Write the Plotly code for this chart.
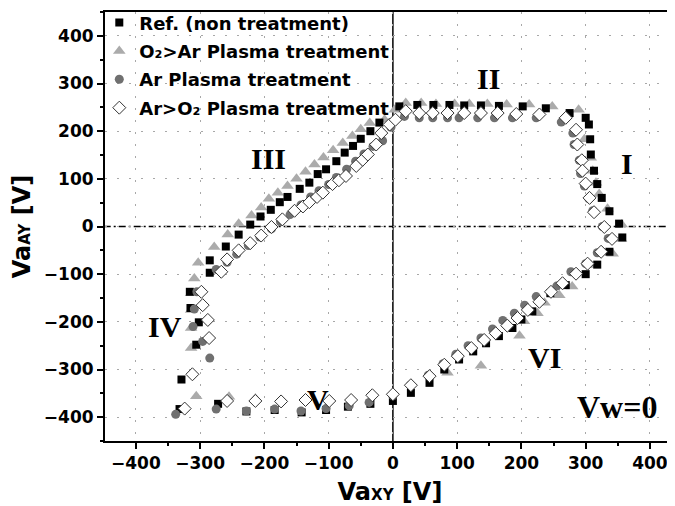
import plotly.graph_objects as go

# ---------------- data ----------------
ref_x = [10, 38, 63, 88, 111, 137, 165, 202, 238, 275, 300,
         305, 307, 308, 313, 318, 325, 337, 352, 357, 337,
         318, 300, 269, 245, 217, 200, 186, 165, 145, 125, 103, 80, 57, 28, 0,
         -35, -70, -104, -142, -184, -228, -272, -332,
         -329, -306, -302, -315, -316, -285, -285, -260, -240,
         -222, -206, -190, -176, -164, -145, -130, -117, -104, -88, -75, -62, -50, -35, -21]
ref_y = [252, 255, 255, 255, 254, 254, 253, 252, 248, 238, 228,
         214, 183, 151, 117, 89, 60, 32, 6, -23, -53,
         -80, -100, -123, -140, -178, -195, -213, -230, -245, -262, -279, -300, -328, -349, -366,
         -372, -378, -385, -390, -385, -388, -372, -383,
         -321, -248, -201, -171, -137, -97, -71, -42, -17,
         4, 21, 35, 51, 62, 79, 92, 110, 120, 137, 155, 169, 184, 200, 218]

o2ar_x = [3, 20, 44, 67, 96, 119, 147, 177, 212, 248, 289,
          298, 308, 311, 316, 321, 334, 356, 355, 342,
          308, 279, 259, 236, 225, 204, 197, 137, 85,
          -306, -255, -214,
          -314, -314, -314, -314, -309, -303, -278, -257,
          -240, -220, -205, -193, -179, -164, -150, -136, -122, -108, -93, -78, -63, -50, -36, -13]
o2ar_y = [245, 259, 259, 257, 257, 257, 257, 256, 256, 252, 245,
          183, 144, 117, 92, 68, 37, 4, -26, -57,
          -81, -126, -144, -160, -182, -199, -229, -292, -307,
          -356, -357, -361,
          -255, -213, -175, -140, -109, -76, -43, -17,
          6, 23, 40, 58, 71, 85, 100, 115, 130, 145, 160, 175, 190, 204, 217, 224]

ar_x = [-3, 18, 41, 62, 85, 103, 132, 158, 186, 223, 262,
        280, 282, 290, 292, 298, 305, 311, 326, 335, 318,
        300, 277, 255, 223, 205, 189, 171, 155, 137, 117, 98, 78, 55, 27, 0,
        -37, -68, -104, -143, -184, -228, -275, -338,
        -285, -296, -311, -309, -305, -275, -258, -243,
        -225, -207, -189, -175, -160, -143, -128, -115, -100, -88, -72, -58, -45, -31, -16]
ar_y = [208, 231, 228, 228, 228, 228, 228, 228, 228, 228, 219,
        196, 172, 139, 111, 85, 58, 33, 0, -25, -55,
        -78, -95, -125, -147, -165, -182, -197, -215, -234, -250, -268, -288, -312, -333, -355,
        -369, -376, -382, -387, -383, -387, -383, -394,
        -276, -241, -210, -173, -137, -90, -75, -58,
        -40, -22, -5, 10, 25, 45, 62, 75, 88, 103, 120, 137, 152, 168, 180]

aro2_x = [20, 41, 62, 85, 111, 137, 163, 192, 228, 269,
          285, 287, 294, 295, 300, 306, 313, 329, 341, 324, 303,
          285, 264, 246, 228, 210, 194, 178, 160, 142, 122, 101, 80, 57, 28, 0,
          -32, -65, -99, -136, -174, -214, -258, -324,
          -312, -286, -288, -296, -298, -267,
          -258, -240, -222, -205, -189, -172, -153, -140, -130, -118, -109, -94, -84, -73,
          -57, -47, -39, -26, -18, -5, 4]
aro2_y = [242, 238, 238, 238, 238, 238, 238, 236, 235, 228,
          203, 172, 139, 117, 90, 60, 30, -1, -26, -53, -78,
          -99, -119, -137, -158, -175, -192, -208, -224, -238, -255, -272, -290, -314, -333, -352,
          -354, -364, -366, -364, -367, -366, -366, -382,
          -310, -234, -196, -165, -137, -95,
          -69, -50, -35, -19, -1, 15, 33, 42, 51, 62, 71, 89, 97, 106,
          127, 140, 151, 172, 196, 214, 224]

x_ticks = [-400, -300, -200, -100, 0, 100, 200, 300, 400]
y_ticks = [-400, -300, -200, -100, 0, 100, 200, 300, 400]

region_labels = ["I", "II", "III", "IV", "V", "VI", "Vw=0"]
region_x = [365, 148, -193, -354, -116, 236, 349]
region_y = [133, 310, 142, -210, -362, -275, -379]

# ---------------- figure ----------------
FONT = "DejaVu Sans"
fig = go.Figure()

fig.add_trace(go.Scatter(x=o2ar_x, y=o2ar_y, mode="markers", name="O₂>Ar Plasma treatment",
                         legendrank=2, legendgroup="b",
                         marker=dict(symbol="triangle-up", size=11, color="#ababab")))
fig.add_trace(go.Scatter(x=ref_x, y=ref_y, mode="markers", name="Ref. (non treatment)",
                         legendrank=1, legendgroup="a",
                         marker=dict(symbol="square", size=8, color="#000000")))
fig.add_trace(go.Scatter(x=ar_x, y=ar_y, mode="markers", name="Ar Plasma treatment",
                         legendrank=3, legendgroup="c",
                         marker=dict(symbol="circle", size=9, color="#707070")))
fig.add_trace(go.Scatter(x=aro2_x, y=aro2_y, mode="markers", name="Ar>O₂ Plasma treatment",
                         legendrank=4, legendgroup="d",
                         marker=dict(symbol="diamond", size=10, color="#ffffff",
                                     line=dict(color="#333333", width=1))))

# reference lines at zero
fig.add_shape(type="line", xref="x", yref="y", x0=0, x1=0, y0=-450, y1=450,
              line=dict(color="black", width=1.5), layer="below")
fig.add_shape(type="line", xref="x", yref="y", x0=-450, x1=440, y0=0, y1=0,
              line=dict(color="black", width=1.5, dash="7px,3px,2px,3px"), layer="below")

for t, xx, yy in zip(region_labels, region_x, region_y):
    fig.add_annotation(x=xx, y=yy, text="<b>%s</b>" % t, showarrow=False,
                       font=dict(family="Liberation Serif", size=30 if t != "Vw=0" else 32,
                                 color="black"))

axis_common = dict(
    showline=True, linecolor="black", linewidth=2,
    ticks="outside", ticklen=6, tickwidth=2, tickcolor="black",
    tickfont=dict(family=FONT, size=17, color="black", weight="bold"),
    showgrid=True, gridcolor="#a8a8a8", gridwidth=1, griddash="2px,10px",
    zeroline=False,
    minor=dict(ticks="outside", ticklen=3, tickwidth=1.5, tickcolor="black",
               dtick=50, showgrid=False),
)

fig.update_xaxes(range=[-448, 439], tickvals=x_ticks, mirror=True,
                 title=dict(text="Va<span style='font-size:15px'>XY</span> [V]",
                            font=dict(family=FONT, size=24, color="black", weight="bold"),
                            standoff=14),
                 **axis_common)
fig.update_yaxes(range=[-450, 450], tickvals=y_ticks,
                 title=dict(text="Va<span style='font-size:15px'>AY</span> [V]",
                            font=dict(family=FONT, size=24, color="black", weight="bold"),
                            standoff=6),
                 **axis_common)

# page body has an 8px margin, so the figure is placed 8px in from the top-left
fig.update_layout(
    width=667, height=498,
    margin=dict(l=97, r=0, t=4, b=65, autoexpand=False),
    paper_bgcolor="white", plot_bgcolor="white",
    legend=dict(x=-0.01, y=1.018, xanchor="left", yanchor="top",
                bgcolor="rgba(0,0,0,0)", traceorder="grouped", tracegroupgap=2,
                font=dict(family=FONT, size=18, color="black", weight="bold"),
                itemsizing="trace"),
)

fig.write_html("out.html")
